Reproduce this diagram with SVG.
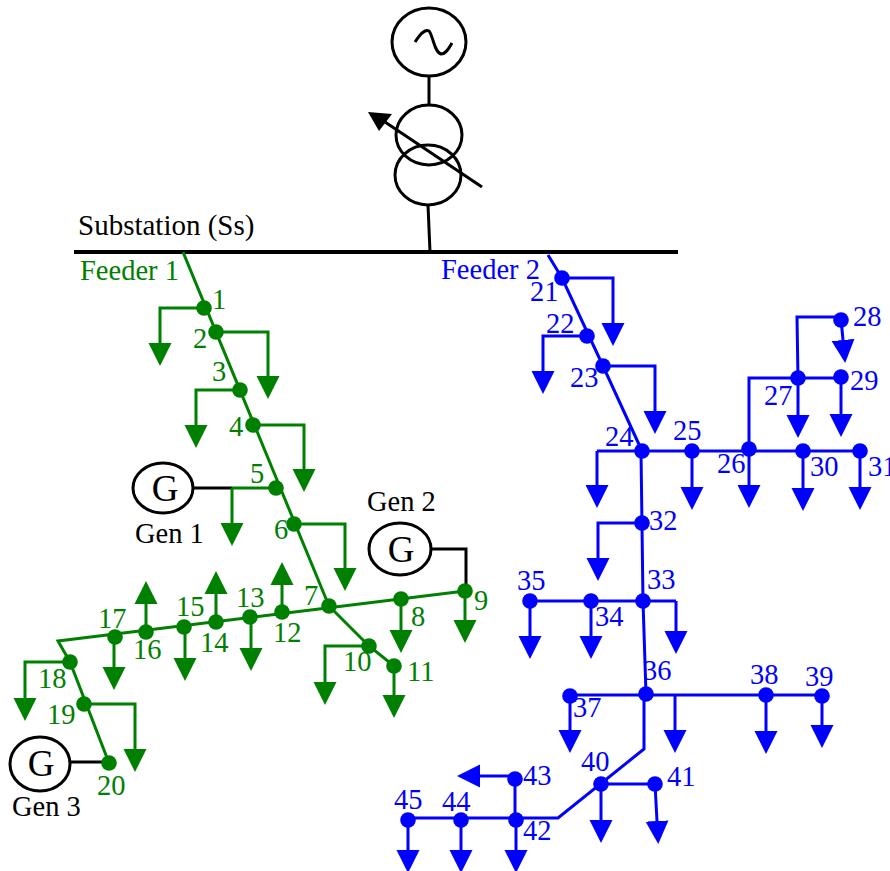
<svg xmlns="http://www.w3.org/2000/svg" width="890" height="871" viewBox="0 0 890 871">
<style>
text{font-family:"Liberation Serif","Times New Roman",serif;font-size:28.5px}
.k{fill:#000}.g{fill:#008000}.b{fill:#0000ff}
.w{fill:none;stroke-width:3;stroke-linejoin:miter}
.gl{stroke:#008000}.bl{stroke:#0000ff}.kl{stroke:#000}
.s{fill:#fff;stroke:#000;stroke-width:3}
.gg{fill:none;stroke:#000;stroke-width:3}
</style>
<defs>
<marker id="ag" markerUnits="userSpaceOnUse" markerWidth="26" markerHeight="26" refX="0" refY="13" orient="auto"><path d="M0,1.5 L23,13 L0,24.5 Z" fill="#008000"/></marker>
<marker id="ab" markerUnits="userSpaceOnUse" markerWidth="26" markerHeight="26" refX="0" refY="13" orient="auto"><path d="M0,1.5 L23,13 L0,24.5 Z" fill="#0000ff"/></marker>
<circle id="ng" r="7.8" fill="#008000"/>
<circle id="nb" r="7.8" fill="#0000ff"/>
</defs>
<g id="connectors">
<g class="w kl">
<path d="M74,252H678" stroke-width="4"/>
<path d="M429,76V106"/>
<path d="M428,205L430,252"/>
<path d="M482,187L385,122"/>
<path d="M192,488H232"/>
<path d="M430,549H466V591"/>
<path d="M70,762H109"/>
</g>
<polygon points="368,112 392,114 379,131" fill="#000"/>
<g class="w gl">
<path d="M183,252L329,606"/>
<path d="M465,591L58,641L70,662L109,763"/>
<path d="M329,606L369,646L394,666"/>
<path d="M276,488H232"/>
<g marker-end="url(#ag)">
<path d="M204,308H160V343"/>
<path d="M216,332H268V376"/>
<path d="M240,390H196V425"/>
<path d="M253,425H304V469"/>
<path d="M232,488V523"/>
<path d="M294,524H345V568"/>
<path d="M401,599V630"/>
<path d="M465,591V620"/>
<path d="M282,612V585"/>
<path d="M251,617V648"/>
<path d="M216,622V594"/>
<path d="M185,627V658"/>
<path d="M146,632V604"/>
<path d="M114,637V667"/>
<path d="M70,662H25V698"/>
<path d="M84,704H135V749"/>
<path d="M369,646H325V682"/>
<path d="M394,666V695"/>
</g>
</g>
<g class="w bl">
<path d="M548,255L562,278L603,366L642,451"/>
<path d="M597,451H860"/>
<path d="M641,451L643,601L646,694"/>
<path d="M749,449V378H841"/>
<path d="M798,378L797,317H841"/>
<path d="M530,601H676"/>
<path d="M570,695H822"/>
<path d="M644,695V749L558,818H408"/>
<path d="M601,784H655"/>
<path d="M515,779V820"/>
<g marker-end="url(#ab)">
<path d="M562,278H613V323"/>
<path d="M587,336H543V371"/>
<path d="M603,366H655V411"/>
<path d="M597,451V485"/>
<path d="M692,451V487"/>
<path d="M749,449V485"/>
<path d="M803,451V488"/>
<path d="M860,451V487"/>
<path d="M798,378V415"/>
<path d="M841,377V414"/>
<path d="M841,319L843,340"/>
<path d="M642,523H598V558"/>
<path d="M676,601V631"/>
<path d="M591,601V636"/>
<path d="M530,601V636"/>
<path d="M570,696V730"/>
<path d="M675,695V730"/>
<path d="M766,695V731"/>
<path d="M822,696V725"/>
<path d="M601,784V820"/>
<path d="M655,784L657,821"/>
<path d="M515,776H480"/>
<path d="M516,820V850"/>
<path d="M461,820V850"/>
<path d="M408,820V850"/>
</g>
</g>
</g>
<g id="source"><ellipse cx="429" cy="42" rx="37" ry="34" class="gg"/><path d="M415,42C421,33 425,29 429,31C433,35 434,52 441,54C446,54 449,48 452,43" class="gg"/></g>
<g id="transformer"><ellipse cx="429" cy="135" rx="33" ry="30" class="gg"/><ellipse cx="428" cy="175" rx="33" ry="30" class="gg"/></g>
<text id="substation-label" x="78" y="235" class="k" style="font-size:29px">Substation (Ss)</text>
<text id="feeder1" x="80" y="280" class="g">Feeder 1</text>
<text id="feeder2" x="441" y="279" class="b">Feeder 2</text>
<g id="gen1"><ellipse cx="163" cy="488" rx="30" ry="25" class="s"/><text x="165" y="501" text-anchor="middle" class="k" style="font-size:37px">G</text><text x="135" y="543" class="k">Gen 1</text></g>
<g id="gen2"><ellipse cx="400" cy="549" rx="31" ry="26" class="s"/><text x="401" y="562" text-anchor="middle" class="k" style="font-size:37px">G</text><text x="367" y="511" class="k">Gen 2</text></g>
<g id="gen3"><ellipse cx="40" cy="764" rx="30" ry="27" class="s"/><text x="41" y="776" text-anchor="middle" class="k" style="font-size:37px">G</text><text x="12" y="816" class="k">Gen 3</text></g>
<g id="n1"><use href="#ng" x="204" y="308"/><text x="212" y="309" class="g">1</text></g>
<g id="n2"><use href="#ng" x="216" y="332"/><text x="193" y="348" class="g">2</text></g>
<g id="n3"><use href="#ng" x="240" y="390"/><text x="212" y="381" class="g">3</text></g>
<g id="n4"><use href="#ng" x="253" y="425"/><text x="229" y="436" class="g">4</text></g>
<g id="n5"><use href="#ng" x="276" y="488"/><text x="250" y="483" class="g">5</text></g>
<g id="n6"><use href="#ng" x="294" y="524"/><text x="274" y="539" class="g">6</text></g>
<g id="n7"><use href="#ng" x="329" y="606"/><text x="304" y="605" class="g">7</text></g>
<g id="n8"><use href="#ng" x="401" y="599"/><text x="411" y="626" class="g">8</text></g>
<g id="n9"><use href="#ng" x="465" y="591"/><text x="474" y="610" class="g">9</text></g>
<g id="n10"><use href="#ng" x="369" y="646"/><text x="343" y="671" class="g">10</text></g>
<g id="n11"><use href="#ng" x="394" y="666"/><text x="407" y="681" class="g">11</text></g>
<g id="n12"><use href="#ng" x="282" y="612"/><text x="273" y="642" class="g">12</text></g>
<g id="n13"><use href="#ng" x="250" y="617"/><text x="236" y="607" class="g">13</text></g>
<g id="n14"><use href="#ng" x="216" y="622"/><text x="200" y="652" class="g">14</text></g>
<g id="n15"><use href="#ng" x="184" y="627"/><text x="176" y="616" class="g">15</text></g>
<g id="n16"><use href="#ng" x="146" y="632"/><text x="133" y="659" class="g">16</text></g>
<g id="n17"><use href="#ng" x="115" y="637"/><text x="98" y="628" class="g">17</text></g>
<g id="n18"><use href="#ng" x="70" y="662"/><text x="38" y="688" class="g">18</text></g>
<g id="n19"><use href="#ng" x="84" y="704"/><text x="47" y="724" class="g">19</text></g>
<g id="n20"><use href="#ng" x="109" y="763"/><text x="97" y="795" class="g">20</text></g>
<g id="n21"><use href="#nb" x="562" y="278"/><text x="530" y="301" class="b">21</text></g>
<g id="n22"><use href="#nb" x="587" y="336"/><text x="546" y="333" class="b">22</text></g>
<g id="n23"><use href="#nb" x="603" y="366"/><text x="570" y="387" class="b">23</text></g>
<g id="n24"><use href="#nb" x="642" y="451"/><text x="605" y="446" class="b">24</text></g>
<g id="n25"><use href="#nb" x="692" y="451"/><text x="673" y="440" class="b">25</text></g>
<g id="n26"><use href="#nb" x="749" y="449"/><text x="717" y="473" class="b">26</text></g>
<g id="n27"><use href="#nb" x="798" y="378"/><text x="764" y="405" class="b">27</text></g>
<g id="n28"><use href="#nb" x="841" y="320"/><text x="853" y="326" class="b">28</text></g>
<g id="n29"><use href="#nb" x="841" y="377"/><text x="850" y="390" class="b">29</text></g>
<g id="n30"><use href="#nb" x="803" y="451"/><text x="810" y="476" class="b">30</text></g>
<g id="n31"><use href="#nb" x="860" y="451"/><text x="868" y="476" class="b">31</text></g>
<g id="n32"><use href="#nb" x="642" y="523"/><text x="649" y="530" class="b">32</text></g>
<g id="n33"><use href="#nb" x="643" y="601"/><text x="647" y="589" class="b">33</text></g>
<g id="n34"><use href="#nb" x="591" y="601"/><text x="595" y="626" class="b">34</text></g>
<g id="n35"><use href="#nb" x="530" y="601"/><text x="517" y="590" class="b">35</text></g>
<g id="n36"><use href="#nb" x="646" y="694"/><text x="643" y="680" class="b">36</text></g>
<g id="n37"><use href="#nb" x="570" y="696"/><text x="573" y="717" class="b">37</text></g>
<g id="n38"><use href="#nb" x="766" y="695"/><text x="750" y="684" class="b">38</text></g>
<g id="n39"><use href="#nb" x="822" y="696"/><text x="805" y="686" class="b">39</text></g>
<g id="n40"><use href="#nb" x="601" y="784"/><text x="581" y="771" class="b">40</text></g>
<g id="n41"><use href="#nb" x="655" y="784"/><text x="667" y="786" class="b">41</text></g>
<g id="n42"><use href="#nb" x="516" y="820"/><text x="523" y="840" class="b">42</text></g>
<g id="n43"><use href="#nb" x="515" y="779"/><text x="523" y="785" class="b">43</text></g>
<g id="n44"><use href="#nb" x="461" y="820"/><text x="442" y="811" class="b">44</text></g>
<g id="n45"><use href="#nb" x="408" y="820"/><text x="394" y="809" class="b">45</text></g>
</svg>
